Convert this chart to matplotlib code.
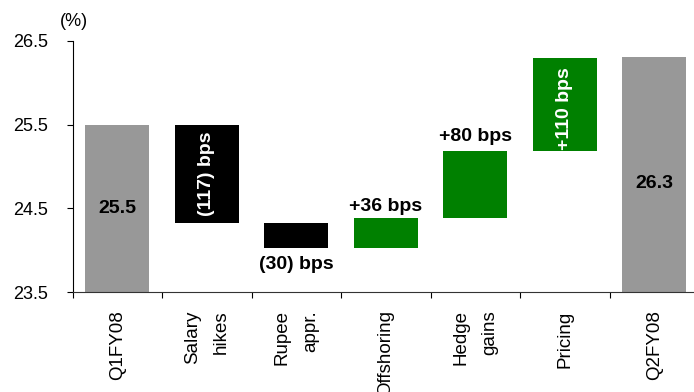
import matplotlib
matplotlib.use('Agg')
import matplotlib.pyplot as plt

plt.rcParams['font.family'] = ['Liberation Sans', 'DejaVu Sans']

# margin bridge, Q1FY08 -> Q2FY08 (%)
categories = ['Q1FY08', 'Salary\nhikes', 'Rupee\nappr.', 'Offshoring', 'Hedge\ngains', 'Pricing', 'Q2FY08']
start_margin = 25.5
end_margin = 26.3
changes_bps = [-117, -30, 36, 80, 110]
change_labels = ['(117) bps', '(30) bps', '+36 bps', '+80 bps', '+110 bps']

gray = '#989898'
green = '#008000'
black = '#000000'
ymin = 23.5

fig = plt.figure(figsize=(6.94, 3.92), dpi=100)
ax = fig.add_axes([72.5 / 694, 99.7 / 392, 7 * 89.5 / 694, 251.6 / 392])

width = 0.71
# opening / closing totals
ax.bar(0, start_margin - ymin, bottom=ymin, width=width, color=gray)
ax.bar(6, end_margin - ymin, bottom=ymin, width=width, color=gray)

# floating steps
level = start_margin
tops = []
bottoms = []
for i, d in enumerate(changes_bps):
    delta = d / 100.0
    lo = min(level, level + delta)
    color = green if d > 0 else black
    ax.bar(i + 1, abs(delta), bottom=lo, width=width, color=color)
    bottoms.append(lo)
    tops.append(lo + abs(delta))
    level += delta

fs = 14
ax.text(0, 24.5, '25.5', ha='center', va='center', fontsize=fs, fontweight='bold')
ax.text(6, 24.8, '26.3', ha='center', va='center', fontsize=fs, fontweight='bold')

# labels inside the tall bars, rotated
ax.text(1, (tops[0] + bottoms[0]) / 2, change_labels[0], color='white', rotation=90,
        ha='center', va='center', fontsize=fs, fontweight='bold')
ax.text(5, (tops[4] + bottoms[4]) / 2 - 0.05, change_labels[4], color='white', rotation=90,
        ha='center', va='center', fontsize=fs, fontweight='bold')
# labels outside the short bars
ax.annotate(change_labels[1], (2, bottoms[1]), xytext=(0, -6), textcoords='offset points',
            ha='center', va='top', fontsize=fs, fontweight='bold')
ax.annotate(change_labels[2], (3, tops[2]), xytext=(0, 2), textcoords='offset points',
            ha='center', va='bottom', fontsize=fs, fontweight='bold')
ax.annotate(change_labels[3], (4, tops[3]), xytext=(0, 4), textcoords='offset points',
            ha='center', va='bottom', fontsize=fs, fontweight='bold')

ax.set_xlim(-0.5, 6.5)
ax.set_ylim(ymin, 26.5)
ax.set_yticks([23.5, 24.5, 25.5, 26.5])
ax.set_yticklabels(['23.5', '24.5', '25.5', '26.5'])

# tick marks at the category boundaries, names at the centres
ax.set_xticks([i - 0.5 for i in range(8)])
ax.set_xticklabels([])
ax.set_xticks(range(len(categories)), minor=True)
ax.set_xticklabels(categories, minor=True, rotation=90, ha='center', va='top',
                   multialignment='right', linespacing=1.85)

ax.tick_params(axis='x', which='major', direction='out', length=4.3, width=0.8)
ax.tick_params(axis='x', which='minor', length=0, pad=13, labelsize=13.5)
ax.tick_params(axis='y', direction='out', length=4.3, width=0.8, pad=13, labelsize=13)

for s in ['top', 'right']:
    ax.spines[s].set_visible(False)
ax.spines['left'].set_linewidth(0.8)
ax.spines['bottom'].set_linewidth(0.8)
ax.spines['bottom'].set_color('#333333')

fig.text(74 / 694, 1 - 22 / 392, '(%)', ha='center', va='center', fontsize=13)

fig.savefig('out.png', dpi=100)
